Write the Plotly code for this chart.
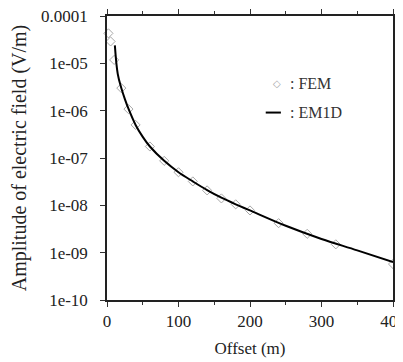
import plotly.graph_objects as go

fem_x = [2, 5, 10, 20, 30, 40, 60, 80, 100, 120, 140, 160, 180, 200, 240, 280, 320, 400]
fem_y = [4.3e-5, 2.9e-5, 1.18e-5, 3.0e-6, 1.08e-6, 5.0e-7, 1.75e-7, 8.7e-8, 5.0e-8,
         3.2e-8, 2.07e-8, 1.4e-8, 1.05e-8, 7.8e-9, 4.2e-9, 2.5e-9, 1.5e-9, 5.75e-10]

em1d_x = [11, 15, 20, 25, 30, 40, 50, 60, 80, 100, 120, 140, 160, 180, 200, 250, 300, 350, 400]
em1d_y = [2.4e-5, 6.0e-6, 3.0e-6, 1.75e-6, 1.1e-6, 5.0e-7, 2.8e-7, 1.75e-7, 8.7e-8, 5.0e-8,
          3.2e-8, 2.1e-8, 1.45e-8, 1.05e-8, 7.8e-9, 3.7e-9, 1.95e-9, 1.12e-9, 6.3e-10]

ytick_vals = [1e-4, 1e-5, 1e-6, 1e-7, 1e-8, 1e-9, 1e-10]
ytick_text = ["0.0001", "1e-05", "1e-06", "1e-07", "1e-08", "1e-09", "1e-10"]
xtick_vals = [0, 100, 200, 300, 400]

font = "Liberation Serif"

fig = go.Figure()
fig.add_trace(go.Scatter(x=fem_x, y=fem_y, mode="markers", name=": FEM",
                         marker=dict(symbol="diamond-open", size=7, color="#a8a8a8",
                                     line=dict(width=1, color="#a8a8a8")),
                         cliponaxis=False, showlegend=False))
fig.add_trace(go.Scatter(x=em1d_x, y=em1d_y, mode="lines", name=": EM1D",
                         line=dict(color="black", width=2, shape="spline"),
                         showlegend=False))

# legend drawn manually
fig.add_annotation(x=0.593, y=0.762, xref="paper", yref="paper", text="◇", showarrow=False,
                   font=dict(family="DejaVu Sans", size=10, color="#a8a8a8"), xanchor="center", yanchor="middle")
fig.add_annotation(x=0.632, y=0.762, xref="paper", yref="paper", text=": FEM", showarrow=False,
                   font=dict(family=font, size=16, color="#333"), xanchor="left", yanchor="middle")
fig.add_shape(type="line", x0=0.555, x1=0.608, y0=0.66, y1=0.66, xref="paper", yref="paper",
              line=dict(color="black", width=2))
fig.add_annotation(x=0.632, y=0.66, xref="paper", yref="paper", text=": EM1D", showarrow=False,
                   font=dict(family=font, size=16, color="#333"), xanchor="left", yanchor="middle")

fig.update_layout(
    width=395, height=354,
    margin=dict(l=99, r=10, t=8, b=62, autoexpand=False),
    paper_bgcolor="white", plot_bgcolor="white",
    font=dict(family=font, size=17, color="#222"),
    showlegend=False,
)
fig.update_xaxes(range=[0, 400], tickvals=xtick_vals, ticks="outside", ticklen=5, tickcolor="#333",
                 ticklabeloverflow="allow",
                 showline=True, linecolor="#222", linewidth=1.5, mirror="ticks", showgrid=False, zeroline=False,
                 minor=dict(tickvals=[50, 150, 250, 350], ticks="outside", ticklen=3, tickcolor="#333"),
                 title=dict(text="Offset (m)", standoff=12, font=dict(size=17)))
fig.update_yaxes(type="log", range=[-10, -4], tickvals=ytick_vals, ticktext=ytick_text,
                 ticks="outside", ticklen=5, tickcolor="#333", ticklabelstandoff=9,
                 ticklabeloverflow="allow",
                 showline=True, linecolor="#222", linewidth=1.5, mirror="ticks", showgrid=False, zeroline=False,
                 title=dict(text="Amplitude of electric field (V/m)", standoff=10, font=dict(size=20)))

fig.write_html("out.html")
